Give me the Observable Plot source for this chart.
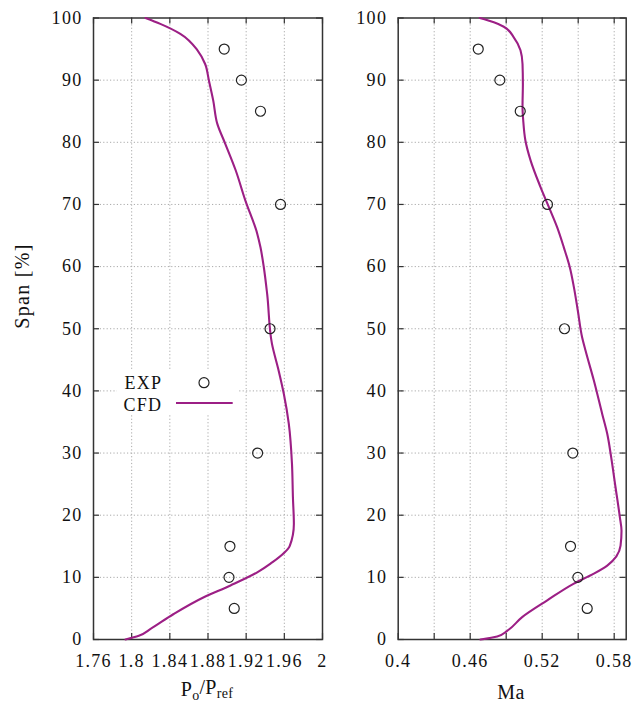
<!DOCTYPE html>
<html><head><meta charset="utf-8">
<script src="https://cdn.jsdelivr.net/npm/d3@7"></script>
<script src="https://cdn.jsdelivr.net/npm/@observablehq/plot@0.6"></script>
<style>
body{margin:0;background:#fff;}
#wrap{position:relative;width:634px;height:704px;overflow:hidden;background:#fff;}
#wrap svg{position:absolute;top:0;}
</style></head><body><div id="wrap"></div>
<script>
// ---- data ----
const expSpan = [95, 90, 85, 70, 50, 30, 15, 10, 5];
const expPo   = [1.897, 1.915, 1.935, 1.956, 1.945, 1.932, 1.903, 1.902, 1.9075];
const expMa   = [0.4667, 0.4847, 0.5017, 0.5244, 0.5386, 0.5455, 0.5436, 0.5497, 0.5575];

const cfdPoSpan = [0, 0.6, 1.7, 4.1, 6.8, 8.7, 10.8, 12.2, 15.1, 18.6, 22.9, 28.3, 34.7, 39.5, 43.3, 47.6, 55.6, 59.9, 63.1, 65.3, 70.7, 75.5, 79.8, 83.0, 86.7, 89.9, 92.6, 94.8, 97.45, 99.06, 100];
const cfdPo     = [1.7935, 1.8075, 1.8198, 1.844, 1.8756, 1.9036, 1.9316, 1.9455, 1.9658, 1.970, 1.969, 1.968, 1.9647, 1.9595, 1.954, 1.947, 1.942, 1.9385, 1.935, 1.9316, 1.919, 1.909, 1.898, 1.8897, 1.8855, 1.881, 1.877, 1.869, 1.851, 1.830, 1.8145];

const cfdMaSpan = [0, 0.5, 1.4, 3.6, 6.3, 9.0, 10.6, 11.9, 15.1, 17.5, 19.7, 24.5, 29.3, 33.1, 36.3, 41.7, 46.5, 48.6, 52.9, 56.7, 59.9, 63.1, 66.3, 69.6, 72.8, 77.1, 80.3, 83.5, 85.7, 89.4, 92.6, 94.8, 96.9, 98.6, 99.3, 100];
const cfdMa     = [0.4686, 0.4825, 0.4908, 0.5033, 0.5242, 0.5464, 0.563, 0.5742, 0.5853, 0.5861, 0.5847, 0.5811, 0.5775, 0.5742, 0.570, 0.563, 0.5561, 0.5533, 0.5497, 0.5464, 0.543, 0.538, 0.5325, 0.5255, 0.5186, 0.5103, 0.506, 0.5042, 0.5036, 0.5039, 0.5036, 0.5019, 0.4963, 0.488, 0.4797, 0.468];

const yTicks = [0, 10, 20, 30, 40, 50, 60, 70, 80, 90, 100];
const yGrid = [10, 20, 30, 40, 50, 60, 70, 80, 90];
const poTicks = [1.76, 1.8, 1.84, 1.88, 1.92, 1.96, 2];
const poTickLabels = ["1.76", "1.8", "1.84", "1.88", "1.92", "1.96", "2"];
const poGrid = [1.8, 1.84, 1.88, 1.92, 1.96];
const maTicks = [0.4, 0.43, 0.46, 0.49, 0.52, 0.55, 0.58];
const maGrid = [0.43, 0.46, 0.49, 0.52, 0.55, 0.58];
const maLabelTicks = [0.4, 0.46, 0.52, 0.58];
const maTickLabels = ["0.4", "0.46", "0.52", "0.58"];
const yTitle = "Span [%]";
const legendLabels = ["EXP", "CFD"];

// ---- style ----
const LINE = "#9c1f85";
const TEXT = "#111";
const MT = 17.5, MB = 65, TOTAL_H = 704;

function panel(o) {
  const H = TOTAL_H - MT - MB;
  const W = o.width - o.marginLeft - o.marginRight;
  const cfd = o.cfdSpan.map((s, i) => ({s, v: o.cfdVal[i]}));
  const exp = expSpan.map((s, i) => ({s, v: o.expVal[i]}));
  const labelMap = new Map(o.labelTicks.map((t, i) => [t, o.labels[i]]));
  const grid = {stroke: "#aaaaaa", strokeOpacity: 1, strokeDasharray: "1.2,2.2", strokeWidth: 1};
  const tick = {stroke: "#333", strokeWidth: 1.2};
  return Plot.plot({
    width: o.width, height: TOTAL_H,
    marginTop: MT, marginBottom: MB, marginLeft: o.marginLeft, marginRight: o.marginRight,
    x: {domain: o.xDomain, label: null},
    y: {domain: [0, 100], label: null},
    style: {fontFamily: "'Liberation Serif', serif", fontSize: "18px", letterSpacing: "1.3px", color: TEXT, background: "transparent", overflow: "visible"},
    marks: [
      Plot.gridX(o.gridX, grid),
      Plot.gridY(yGrid, grid),
      Plot.ruleX(o.tickX, {x: d => d, insetTop: H - 6, ...tick}),
      Plot.ruleX(o.tickX, {x: d => d, insetBottom: H - 6, ...tick}),
      Plot.ruleY(yTicks, {y: d => d, insetRight: W - 6, ...tick}),
      Plot.ruleY(yTicks, {y: d => d, insetLeft: W - 6, ...tick}),
      Plot.frame({stroke: "#333", strokeWidth: 1.5}),
      Plot.line(cfd, {x: "v", y: "s", stroke: LINE, strokeWidth: 2.1, curve: "monotone-y", strokeLinejoin: "round"}),
      Plot.dot(exp, {x: "v", y: "s", r: 5, stroke: "#222", strokeWidth: 1.2, fill: "none"}),
      Plot.axisX(o.labelTicks, {tickSize: 0, tickPadding: 15, tickFormat: d => labelMap.get(d), label: null}),
      Plot.axisY(yTicks, {tickSize: 0, tickPadding: 11, label: null}),
      ...(o.extra || [])
    ]
  });
}

const wrap = document.getElementById("wrap");

const left = panel({
  width: 330, marginLeft: 93, marginRight: 8,
  xDomain: [1.76, 2], gridX: poGrid, tickX: poTicks, labelTicks: poTicks, labels: poTickLabels,
  cfdSpan: cfdPoSpan, cfdVal: cfdPo, expVal: expPo,
  extra: [Plot.text([yTitle], {text: d => d, frameAnchor: "left", dx: -71, rotate: -90, fontSize: 20, letterSpacing: "0.3px"})]
});
left.style.left = "0px";
wrap.appendChild(left);

const right = panel({
  width: 294, marginLeft: 57.7, marginRight: 8.3,
  xDomain: [0.4, 0.59], gridX: maGrid, tickX: maTicks, labelTicks: maLabelTicks, labels: maTickLabels,
  cfdSpan: cfdMaSpan, cfdVal: cfdMa, expVal: expMa
});
right.style.left = "340px";
wrap.appendChild(right);

// x titles
const ls = d3.select(left);
const t1 = ls.append("text").attr("x", 207).attr("y", 696).attr("text-anchor", "middle")
  .style("font-size", "20px").style("letter-spacing", "0.3px").attr("fill", TEXT);
t1.append("tspan").text("P");
t1.append("tspan").attr("dy", "0.3em").style("font-size", "14px").text("o");
t1.append("tspan").attr("dy", "-0.3em").text("/P");
t1.append("tspan").attr("dy", "0.3em").style("font-size", "14px").text("ref");

d3.select(right).append("text").attr("x", 171).attr("y", 699).attr("text-anchor", "middle")
  .style("font-size", "20px").style("letter-spacing", "0.3px").attr("fill", TEXT).text("Ma");

// legend (left panel)
const lg = ls.append("g");
lg.append("rect").attr("x", 117).attr("y", 371).attr("width", 122).attr("height", 44).attr("fill", "#fff");
lg.append("text").attr("x", 162.3).attr("y", 383).attr("dy", "0.32em").attr("text-anchor", "end").attr("fill", TEXT).text(legendLabels[0]);
lg.append("circle").attr("cx", 204).attr("cy", 382.7).attr("r", 5).attr("fill", "none").attr("stroke", "#222").attr("stroke-width", 1.2);
lg.append("text").attr("x", 162.3).attr("y", 405).attr("dy", "0.32em").attr("text-anchor", "end").attr("fill", TEXT).text(legendLabels[1]);
lg.append("line").attr("x1", 176).attr("x2", 232.7).attr("y1", 403).attr("y2", 403).attr("stroke", LINE).attr("stroke-width", 2.1);
</script>
</body></html>
